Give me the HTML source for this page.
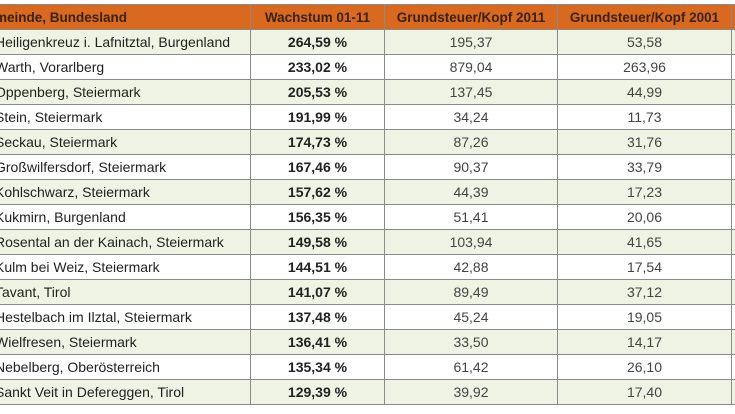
<!DOCTYPE html>
<html><head><meta charset="utf-8"><style>
body{margin:0;width:735px;height:414px;background:#fff;overflow:hidden;font-family:"Liberation Sans",sans-serif;}
table{position:absolute;left:-8px;top:4px;border-collapse:collapse;table-layout:fixed;width:759px;}
td,th{border:1px solid #8a8a8a;height:24px;padding:0;font-size:14px;color:#222;white-space:nowrap;overflow:hidden;}
th{background:#d9691f;color:#3a2210;font-weight:bold;text-align:center;height:24px;font-size:13.5px;}
th.l{text-align:left;text-indent:-16px;}
td.l{text-align:left;padding-left:2px;}
tr.g td{background:#eef3e3;}
td.b{font-weight:bold;text-align:center;}
td.c{text-align:center;color:#444;}
</style></head><body>
<table>
<colgroup><col style="width:258px"><col style="width:134px"><col style="width:173px"><col style="width:174px"><col style="width:20px"></colgroup>
<thead><tr>
<th class="l">Gemeinde, Bundesland</th>
<th>Wachstum 01-11</th>
<th>Grundsteuer/Kopf 2011</th>
<th>Grundsteuer/Kopf 2001</th>
<th></th></tr></thead>
<tbody id="tb"></tbody></table>
<script>
const names=["Heiligenkreuz i. Lafnitztal, Burgenland","Warth, Vorarlberg","Oppenberg, Steiermark","Stein, Steiermark","Seckau, Steiermark","Großwilfersdorf, Steiermark","Kohlschwarz, Steiermark","Kukmirn, Burgenland","Rosental an der Kainach, Steiermark","Kulm bei Weiz, Steiermark","Tavant, Tirol","Hestelbach im Ilztal, Steiermark","Wielfresen, Steiermark","Nebelberg, Oberösterreich","Sankt Veit in Defereggen, Tirol"];
const growth=["264,59 %","233,02 %","205,53 %","191,99 %","174,73 %","167,46 %","157,62 %","156,35 %","149,58 %","144,51 %","141,07 %","137,48 %","136,41 %","135,34 %","129,39 %"];
const v2011=["195,37","879,04","137,45","34,24","87,26","90,37","44,39","51,41","103,94","42,88","89,49","45,24","33,50","61,42","39,92"];
const v2001=["53,58","263,96","44,99","11,73","31,76","33,79","17,23","20,06","41,65","17,54","37,12","19,05","14,17","26,10","17,40"];
const tb=document.getElementById('tb');
names.forEach((n,i)=>{
const tr=document.createElement('tr');


if(i%2===0)tr.className='g';
[[n,'l','cell-gemeinde'],[growth[i],'b','cell-wachstum'],[v2011[i],'c','cell-2011'],[v2001[i],'c','cell-2001'],['','c','cell-extra']].forEach(c=>{
const td=document.createElement('td');td.textContent=c[0];td.className=c[1];


tr.appendChild(td);});
tb.appendChild(tr);});
</script>
</body></html>
